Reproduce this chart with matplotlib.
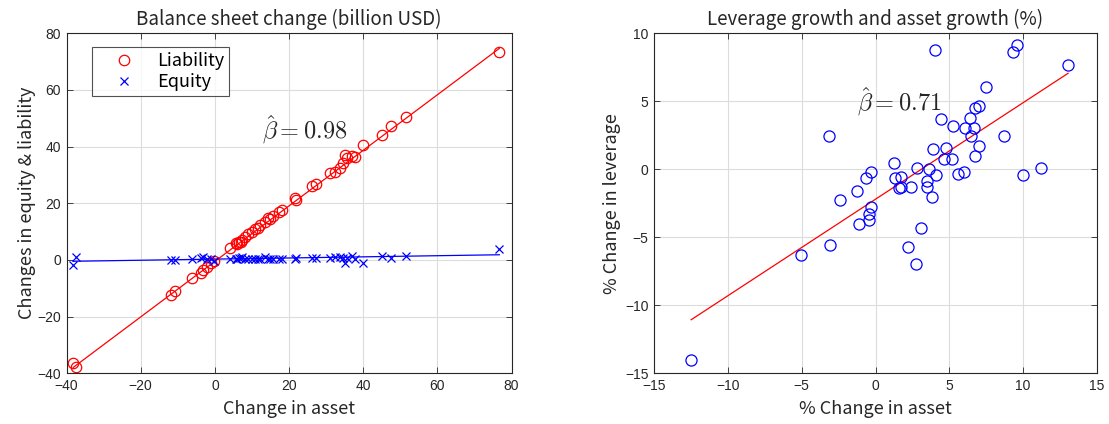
import matplotlib
matplotlib.use("Agg")
import matplotlib.pyplot as plt
import numpy as np

plt.rcParams['font.family'] = ['Noto Sans CJK JP', 'DejaVu Sans']
plt.rcParams['mathtext.fontset'] = 'cm'

# left panel: balance sheet change (billion USD)
asset = [-38.2, -37.4, -11.9, -10.7, -6.2, -3.7, -3.1, -2.2, -1.1, -0.2,
         4.1, 5.7, 6.0, 6.6, 7.0, 7.3, 8.1, 9.0, 9.9, 10.8,
         11.5, 12.2, 13.5, 14.4, 14.9, 15.8, 17.4, 18.0, 21.6, 21.9,
         26.1, 27.3, 31.1, 32.4, 33.8, 34.5, 35.1, 35.6, 36.9, 37.8,
         40.0, 45.0, 47.5, 51.6, 76.7]
liability = [-36.5, -37.9, -12.4, -10.8, -6.5, -4.5, -3.5, -2.4, -1.2, -0.4,
             4.3, 5.9, 5.6, 6.5, 6.3, 7.1, 8.0, 9.1, 10.0, 10.8,
             11.3, 12.4, 13.5, 14.7, 14.5, 15.5, 17.0, 17.6, 21.8, 21.2,
             26.1, 26.8, 30.6, 31.2, 32.4, 34.1, 37.1, 35.9, 36.7, 36.5,
             40.6, 44.1, 47.3, 50.4, 73.5]
equity = [-1.8, 0.9, 0.1, 0.0, 0.2, 0.6, 0.9, 0.2, 0.3, -0.2,
          0.2, 0.5, 0.3, 0.8, 0.6, 1.0, 0.4, 0.3, 0.5, 0.4,
          0.2, 0.3, 0.9, 0.3, 0.5, 0.5, 0.4, 0.4, 0.5, 0.6,
          0.6, 0.6, 0.8, 1.2, 1.2, 0.7, -1.2, 0.6, 1.4, 0.4,
          -1.0, 1.4, 0.8, 1.4, 3.8]
beta_liab, icpt_liab = 0.98, -0.5
beta_eq, icpt_eq = 0.02, 0.3

# right panel: leverage growth vs asset growth (%)
asset_g = [4.05, 9.59, 9.28, 13.04, 7.48, -3.17, 4.43, 6.75, 7.0, 6.39,
           5.24, 6.04, 6.66, 6.44, 8.69, 3.91, 4.77, 7.02, 6.73, 4.65,
           5.16, 1.27, 2.83, 3.64, 11.2, 9.96, 5.56, 5.99, -0.32, -0.64,
           4.07, 1.32, 1.75, 3.5, -1.27, 1.57, 2.42, 3.46, -2.4, 3.8,
           -0.32, -0.46, -0.46, -1.14, 3.1, 2.22, 2.76, -3.1, -5.02, -12.48,
           1.75]
lev_g = [8.74, 9.16, 8.62, 7.67, 6.04, 2.47, 3.69, 4.48, 4.67, 3.75,
         3.2, 3.06, 3.01, 2.43, 2.43, 1.48, 1.55, 1.7, 0.99, 0.75,
         0.75, 0.45, 0.13, 0.04, 0.09, -0.4, -0.38, -0.18, -0.23, -0.64,
         -0.42, -0.67, -0.57, -0.89, -1.59, -1.35, -1.33, -1.33, -2.23, -2.03,
         -2.74, -3.28, -3.72, -4.01, -4.3, -5.74, -6.96, -5.54, -6.28, -14.01,
         -1.33]
beta_lev, icpt_lev = 0.71, -2.2

red = (1, 0, 0)
blue = (0, 0, 1)
spine_c = '#262626'
grid_c = '#dcdcdc'


def style(ax):
    ax.grid(True, color=grid_c, linewidth=0.8)
    ax.set_axisbelow(True)
    ax.tick_params(direction='in', top=True, right=True, length=4,
                   labelsize=10, colors=spine_c, width=0.6, pad=4)
    for s in ax.spines.values():
        s.set_color(spine_c)
        s.set_linewidth(0.8)
    for lab in ax.get_xticklabels() + ax.get_yticklabels():
        lab.set_family(['Liberation Sans', 'DejaVu Sans'])


fig = plt.figure(figsize=(11.09, 4.24), dpi=100)
ax1 = fig.add_axes([0.0600, 0.1196, 0.4013, 0.8019])
ax2 = fig.add_axes([0.5897, 0.1196, 0.3995, 0.8019])

# left
a = np.array(asset)
xl = np.array([a.min(), a.max()])
ax1.plot(xl, icpt_liab + beta_liab * xl, color=red, lw=0.9)
ax1.plot(xl, icpt_eq + beta_eq * xl, color=blue, lw=0.9)
ax1.plot(asset, liability, 'o', ls='none', mfc='none', mec=red, ms=7.5,
         mew=0.9, label='Liability')
ax1.plot(asset, equity, 'x', ls='none', color=blue, ms=6, mew=0.9,
         label='Equity')
ax1.set_xlim(-40, 80)
ax1.set_ylim(-40, 80)
ax1.set_xticks(np.arange(-40, 81, 20))
ax1.set_yticks(np.arange(-40, 81, 20))
ax1.set_xlabel('Change in asset', fontsize=13, color=spine_c, labelpad=5)
ax1.set_ylabel('Changes in equity & liability', fontsize=13, color=spine_c,
               labelpad=1)
ax1.set_title('Balance sheet change (billion USD)', fontsize=13.5,
              color=spine_c, pad=6)
ax1.text(12.6, 45.9, r'$\hat{\beta} = 0.98$', fontsize=17.5, va='center',
         color='#262626')
leg = ax1.legend(loc='upper left', bbox_to_anchor=(0.058, 0.96),
                 borderaxespad=0, fontsize=13, frameon=True, fancybox=False,
                 edgecolor=spine_c, handletextpad=0.4, borderpad=0.3,
                 labelspacing=0.15, handlelength=2.87)
leg.get_frame().set_linewidth(0.8)
style(ax1)

# right
g = np.array(asset_g)
xr = np.array([g.min(), g.max()])
ax2.plot(xr, icpt_lev + beta_lev * xr, color=red, lw=0.9)
ax2.plot(asset_g, lev_g, 'o', ls='none', mfc='none', mec=blue, ms=8,
         mew=0.9)
ax2.set_xlim(-15, 15)
ax2.set_ylim(-15, 10)
ax2.set_xticks(np.arange(-15, 16, 5))
ax2.set_yticks(np.arange(-15, 11, 5))
ax2.set_xlabel('% Change in asset', fontsize=13, color=spine_c, labelpad=5)
ax2.set_ylabel('% Change in leverage', fontsize=13, color=spine_c,
               labelpad=3)
ax2.set_title('Leverage growth and asset growth (%)', fontsize=13.5,
              color=spine_c, pad=6)
ax2.text(-1.27, 5.0, r'$\hat{\beta} = 0.71$', fontsize=17.5, va='center',
         color='#262626')
style(ax2)

fig.savefig('out.png', dpi=100)
